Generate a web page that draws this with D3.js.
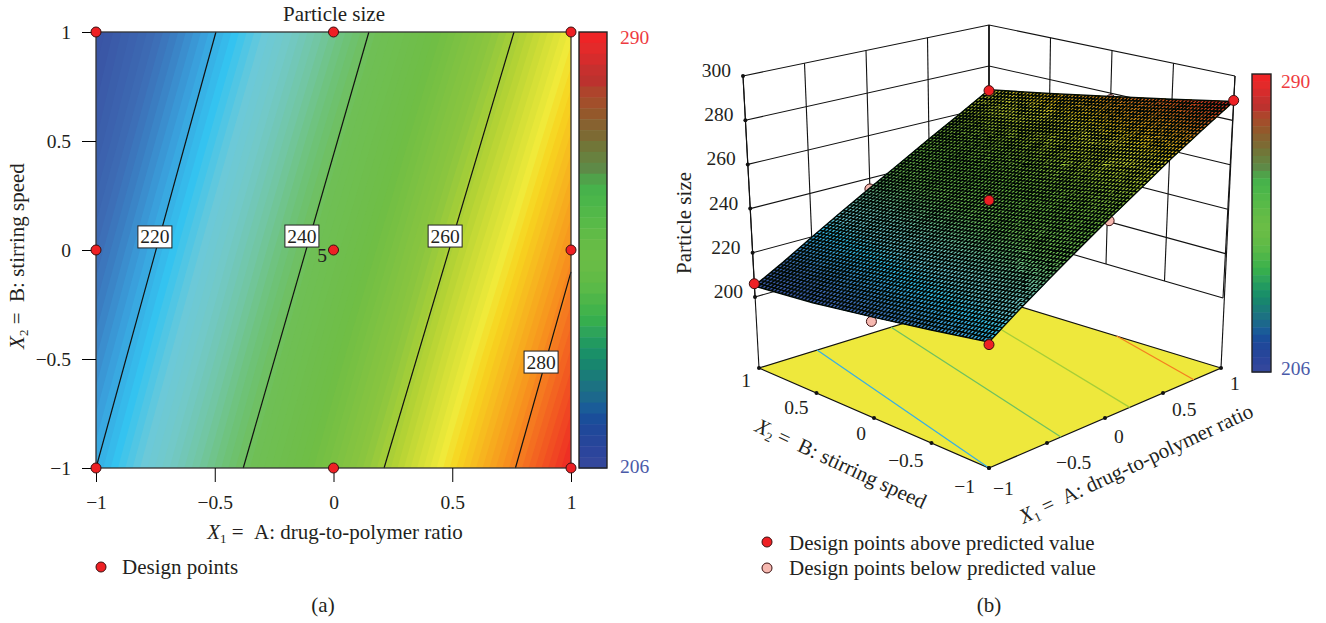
<!DOCTYPE html>
<html>
<head>
<meta charset="utf-8">
<script src="https://cdn.jsdelivr.net/npm/d3@7"></script>
<style>
  html, body { margin: 0; background: #fff; }
  svg { display: block; }
  text { font-family: 'Liberation Serif', serif; fill: #231f20; font-size: 19.5px; }
  text.w { font-size: 21px; }
</style>
</head>
<body>
<svg width="1326" height="623"></svg>
<script>
// particle size, rows are X2 = 1 down to -1
const x1Grid = [-1, -0.75, -0.5, -0.25, 0, 0.25, 0.5, 0.75, 1];
const x2Grid = [1, 0.5, 0, -0.5, -1];
const sizeAtX2p1 = [205, 212, 219.8, 227.6, 235.4, 243.3, 251.5, 259.7, 268.4];
const sizeAtX2p05 = [208, 216, 223.9, 231.8, 239.8, 247.8, 256.2, 264.6, 273.4];
const sizeAtX20 = [212, 220.1, 228, 236, 244.1, 252.3, 261, 269.5, 278.5];
const sizeAtX2m05 = [216, 224.1, 232, 240.2, 248.5, 256.8, 265.7, 274.5, 283.5];
const sizeAtX2m1 = [220, 228.1, 236.1, 244.4, 252.8, 261.3, 270.4, 279.4, 288.5];
const sizeRows = [sizeAtX2p1, sizeAtX2p05, sizeAtX20, sizeAtX2m05, sizeAtX2m1];

// contour lines, where they enter and leave the square
const contourLevels = [220, 240, 260, 280];
const contourFromX1 = [-1, -0.38, 0.213, 0.766];
const contourFromX2 = [-1, -1, -1, -1];
const contourToX1 = [-0.495, 0.149, 0.76, 1];
const contourToX2 = [1, 1, 1, -0.1];
const contourLabelX1 = [-0.752, -0.133, 0.47, 0.874];
const contourLabelX2 = [0.06, 0.064, 0.064, -0.514];

// design points
const pointX1 = [-1, 0, 1, -1, 0, 1, -1, 0, 1];
const pointX2 = [1, 1, 1, 0, 0, 0, -1, -1, -1];
const pointSize = [206, 235, 268, 210, 246, 277, 219, 252, 289];
const pointAbove = [true, false, true, false, true, false, true, false, true];

const axisTicks = [-1, -0.5, 0, 0.5, 1];
const sizeTicks = [200, 220, 240, 260, 280, 300];
const sizeBarLabels = ['290', '206'];

// colours
const rampSizes = [206, 212, 215, 219, 222.5, 226.4, 229.6, 233.3, 237, 241.3, 249.3, 257, 261.8, 268.5, 271, 278, 288];
const rampColors = ['#3a55a5', '#3d6cb4', '#3b80c4', '#3aa5df', '#34c3f0', '#6cc9d8', '#72c9c8', '#72c6a6', '#6ec27a',
  '#6fbf55', '#6fbe45', '#8cc63f', '#b5d334', '#f0ea3a', '#f7d31f', '#f7941e', '#ee2a24'];
const barColors = ['#ee2426', '#e32a2a', '#d62c2c', '#c6302e', '#bc322e', '#ae442c', '#a24f2b', '#94582b', '#876230', '#7d6a33',
  '#717638', '#68813f', '#5e8a47', '#50a24a', '#47b24b', '#4bb64a', '#52b849', '#58ba48', '#60bb47', '#66bc46',
  '#6abd46', '#68bc46', '#62bb46', '#5aba48', '#4eb649', '#42b34b', '#36ae4e', '#2ea45a', '#229a60', '#1a9068',
  '#18866e', '#1a7c78', '#1c7282', '#1c688c', '#1a5c98', '#1a4e9a', '#20489a', '#26469a', '#2c459c', '#33479c'];

const svg = d3.select('svg');
const color = d3.scaleLinear().domain(rampSizes).range(rampColors).clamp(true);
const minus = d => String(d).replace('-', '\u2212');

const nx = x1Grid.length;
const ny = x2Grid.length;
const bands = d3.contours()
  .size([nx, ny])
  .thresholds(d3.range(200, 292, 1))(sizeRows.flat());
const gridToX1 = d3.scaleLinear().domain([0.5, nx - 0.5]).range([-1, 1]).clamp(true);
const gridToX2 = d3.scaleLinear().domain([0.5, ny - 0.5]).range([1, -1]).clamp(true);

const rowScales = sizeRows.map(r => d3.scaleLinear().domain(x1Grid).range(r));
const sizeAt = (x1, x2) => d3.scaleLinear().domain(x2Grid).range(rowScales.map(s => s(x1)))(x2);

const titleWithSub = (sel, sub, rest) => {
  sel.attr('class', 'w');
  sel.append('tspan').attr('font-style', 'italic').style('font-size', '21px').text('X');
  sel.append('tspan').attr('dy', 4).style('font-size', '13px').text(sub);
  sel.append('tspan').attr('dy', -4).style('font-size', '21px').text('\u00a0=\u00a0\u00a0' + rest);
};

const drawBar = (g, x, y, w, h, fontGap, topDy, botDy) => {
  const band = d3.scaleBand().domain(d3.range(barColors.length)).range([y, y + h]);
  g.selectAll('rect.step').data(barColors).enter().append('rect')
    .attr('class', 'step')
    .attr('x', x)
    .attr('y', (d, i) => band(i))
    .attr('width', w)
    .attr('height', band.bandwidth() + 0.5)
    .attr('fill', d => d);
  g.append('rect')
    .attr('x', x).attr('y', y).attr('width', w).attr('height', h)
    .attr('fill', 'none').attr('stroke', '#222').attr('stroke-width', 1.4);
  g.append('text').attr('x', x + w + fontGap).attr('y', y + topDy).style('fill', '#ee3b3f').text(sizeBarLabels[0]);
  g.append('text').attr('x', x + w + fontGap).attr('y', y + h + botDy).style('fill', '#4a5aa8').text(sizeBarLabels[1]);
};

const drawPoint = (g, x, y, fill) => {
  g.append('circle')
    .attr('cx', x).attr('cy', y).attr('r', 5)
    .attr('fill', fill).attr('stroke', '#3a1010').attr('stroke-width', 1);
};

// ---- panel (a) ----
const a = svg.append('g');
const ax = d3.scaleLinear().domain([-1, 1]).range([96, 571]);
const ay = d3.scaleLinear().domain([-1, 1]).range([468, 32]);
const gridX = d3.scaleLinear().domain([0.5, nx - 0.5]).range([96, 571]);
const gridY = d3.scaleLinear().domain([0.5, ny - 0.5]).range([32, 468]);
const flatPath = d3.geoPath(d3.geoTransform({
  point(x, y) { this.stream.point(gridX(x), gridY(y)); }
}));

svg.append('defs').append('clipPath').attr('id', 'plotclip').append('rect')
  .attr('x', 96).attr('y', 32).attr('width', 475).attr('height', 436);
a.append('g').attr('clip-path', 'url(#plotclip)')
  .selectAll('path').data(bands).enter().append('path')
  .attr('d', flatPath)
  .attr('fill', d => color(d.value + 0.5));

const contourLine = d3.line().x(d => ax(d[0])).y(d => ay(d[1]));
a.selectAll('path.level').data(contourLevels).enter().append('path')
  .attr('class', 'level')
  .attr('d', (d, i) => contourLine([[contourFromX1[i], contourFromX2[i]], [contourToX1[i], contourToX2[i]]]))
  .attr('fill', 'none').attr('stroke', '#111').attr('stroke-width', 1.2);

a.append('rect')
  .attr('x', 96).attr('y', 32).attr('width', 475).attr('height', 436)
  .attr('fill', 'none').attr('stroke', '#333').attr('stroke-width', 1.3);

a.append('g').attr('transform', 'translate(0,468)')
  .call(d3.axisBottom(ax).tickValues(axisTicks).tickFormat(minus).tickSize(14).tickPadding(13))
  .call(g => g.select('.domain').remove())
  .call(g => g.selectAll('text').style('font-size', '19.5px').attr('font-family', null));
a.append('g').attr('transform', 'translate(96,0)')
  .call(d3.axisLeft(ay).tickValues(axisTicks).tickFormat(minus).tickSize(14).tickPadding(11))
  .call(g => g.select('.domain').remove())
  .call(g => g.selectAll('text').style('font-size', '19.5px').attr('font-family', null));

const labels = a.selectAll('g.lab').data(contourLevels).enter().append('g')
  .attr('class', 'lab')
  .attr('transform', (d, i) => `translate(${ax(contourLabelX1[i])},${ay(contourLabelX2[i])})`);
labels.append('rect')
  .attr('x', -17).attr('y', -11).attr('width', 34).attr('height', 22)
  .attr('fill', '#fff').attr('stroke', '#222').attr('stroke-width', 1);
labels.append('text').attr('text-anchor', 'middle').attr('y', 6.5).text(d => d);

pointX1.forEach((p, i) => drawPoint(a, ax(p), ay(pointX2[i]), '#ee2024'));
a.append('text').attr('x', 322).attr('y', 262).attr('text-anchor', 'middle').text('5');

a.append('text').attr('class', 'w').attr('x', 334).attr('y', 21).attr('text-anchor', 'middle').text('Particle size');
titleWithSub(a.append('text').attr('x', 335).attr('y', 539).attr('text-anchor', 'middle'), '1', 'A: drug-to-polymer ratio');
titleWithSub(a.append('text').attr('transform', 'translate(24,256) rotate(-90)').attr('text-anchor', 'middle'), '2', 'B: stirring speed');

drawBar(a.append('g'), 579, 32, 28, 436, 13, 12, 5);
drawPoint(a, 101, 567, '#ee2024');
a.append('text').attr('class', 'w').attr('x', 122).attr('y', 574).text('Design points');
a.append('text').attr('class', 'w').attr('x', 323).attr('y', 612).attr('text-anchor', 'middle').text('(a)');

// ---- panel (b) ----
const b = svg.append('g');
// where each box corner lands for the floor, size 200 and size 300
const zStops = [167, 200, 300];
const corner = (xs, ys) => ({
  x: d3.scaleLinear().domain(zStops).range(xs),
  y: d3.scaleLinear().domain(zStops).range(ys)
});
const front = corner([989, 989, 989], [468, 394, 134]);
const right = corner([1221, 1223, 1235], [368, 298, 76]);
const left = corner([759, 755, 743], [368, 297, 76]);
const back = corner([989, 989, 989], [297, 230, 25]);

const project = (x1, x2, z) => {
  const t = (x1 + 1) / 2;
  const s = (x2 + 1) / 2;
  const mix = k => (1 - s) * ((1 - t) * front[k](z) + t * right[k](z)) + s * ((1 - t) * left[k](z) + t * back[k](z));
  return [mix('x'), mix('y')];
};
const floorZ = zStops[0];
const line3d = d3.line();
const stroke3d = (pts, w, col) => b.append('path')
  .attr('d', line3d(pts.map(p => project(p[0], p[1], p[2]))))
  .attr('fill', 'none').attr('stroke', col || '#111').attr('stroke-width', w);

// floor
b.append('path')
  .attr('d', line3d([[-1, -1], [1, -1], [1, 1], [-1, 1]].map(p => project(p[0], p[1], floorZ))) + 'Z')
  .attr('fill', '#eee83c').attr('stroke', '#111').attr('stroke-width', 1.2);
contourLevels.forEach((lev, i) => {
  stroke3d([[contourFromX1[i], contourFromX2[i], floorZ], [contourToX1[i], contourToX2[i], floorZ]], 1.3, color(lev));
});

// walls
sizeTicks.forEach(z => {
  stroke3d([[-1, 1, z], [1, 1, z], [1, -1, z]], 1.1);
});
axisTicks.forEach(t => {
  stroke3d([[t, 1, 200], [t, 1, 300]], 1.1);
  stroke3d([[1, t, 200], [1, t, 300]], 1.1);
});
stroke3d([[-1, 1, floorZ], [-1, 1, 300]], 1.1);
stroke3d([[1, -1, floorZ], [1, -1, 300]], 1.1);
stroke3d([[1, 1, floorZ], [1, 1, 300]], 1.1);

// points under the surface
pointX1.forEach((p, i) => {
  if (!pointAbove[i]) {
    const [px, py] = project(p, pointX2[i], pointSize[i]);
    drawPoint(b, px, py, '#f6b8b0');
  }
});

// surface
const surfacePath = d3.geoPath(d3.geoTransform({
  point(x, y) {
    const x1 = gridToX1(x);
    const x2 = gridToX2(y);
    const p = project(x1, x2, sizeAt(x1, x2));
    this.stream.point(p[0], p[1]);
  }
}));
b.append('g').selectAll('path').data(bands).enter().append('path')
  .attr('d', surfacePath)
  .attr('fill', d => color(d.value + 0.5));

const meshSteps = d3.range(0, 71).map(i => -1 + i / 35);
const meshLines = meshSteps.flatMap(m => [
  x2Grid.map(x2 => project(m, x2, sizeAt(m, x2))),
  x1Grid.map(x1 => project(x1, m, sizeAt(x1, m)))
]);
b.append('path')
  .attr('d', meshLines.map(l => line3d(l)).join(''))
  .attr('fill', 'none').attr('stroke', '#020a05').attr('stroke-width', 1.5);

pointX1.forEach((p, i) => {
  if (pointAbove[i]) {
    const [px, py] = project(p, pointX2[i], pointSize[i]);
    drawPoint(b, px, py, '#ee2024');
  }
});

// size axis on the left pole
sizeTicks.forEach(z => {
  const [px, py] = project(-1, 1, z);
  b.append('circle').attr('cx', px).attr('cy', py).attr('r', 2).attr('fill', '#111');
  b.append('text').attr('x', px - 12).attr('y', py + 1).attr('text-anchor', 'end').text(z);
});
b.append('text').attr('class', 'w').attr('transform', 'translate(691,223) rotate(-90)').attr('text-anchor', 'middle').text('Particle size');

// floor axes
axisTicks.forEach(t => {
  const [px2, py2] = project(-1, t, floorZ);
  b.append('circle').attr('cx', px2).attr('cy', py2).attr('r', 2).attr('fill', '#111');
  b.append('text').attr('x', px2 - (t === -1 ? 14 : 8)).attr('y', py2 + 19 + 3 * (1 - t)).attr('text-anchor', 'end').text(minus(t));
  const [px1, py1] = project(t, -1, floorZ);
  b.append('circle').attr('cx', px1).attr('cy', py1).attr('r', 2).attr('fill', '#111');
  b.append('text').attr('x', px1 + (t === -1 ? 4 : 9)).attr('y', py1 + 22 + 2.5 * (1 - t)).text(minus(t));
});
titleWithSub(b.append('text').attr('transform', 'translate(838,470) rotate(25)').attr('text-anchor', 'middle'), '2', 'B: stirring speed');
titleWithSub(b.append('text').attr('transform', 'translate(1139,470) rotate(-25)').attr('text-anchor', 'middle'), '1', 'A: drug-to-polymer ratio');

drawBar(b.append('g'), 1252, 74, 19, 298, 10, 14, 3);

drawPoint(b, 767, 542, '#ee2024');
b.append('text').attr('class', 'w').attr('x', 789).attr('y', 550).text('Design points above predicted value');
drawPoint(b, 767, 568, '#f6b8b0');
b.append('text').attr('class', 'w').attr('x', 789).attr('y', 575).text('Design points below predicted value');
b.append('text').attr('class', 'w').attr('x', 989).attr('y', 612).attr('text-anchor', 'middle').text('(b)');
</script>
</body>
</html>
